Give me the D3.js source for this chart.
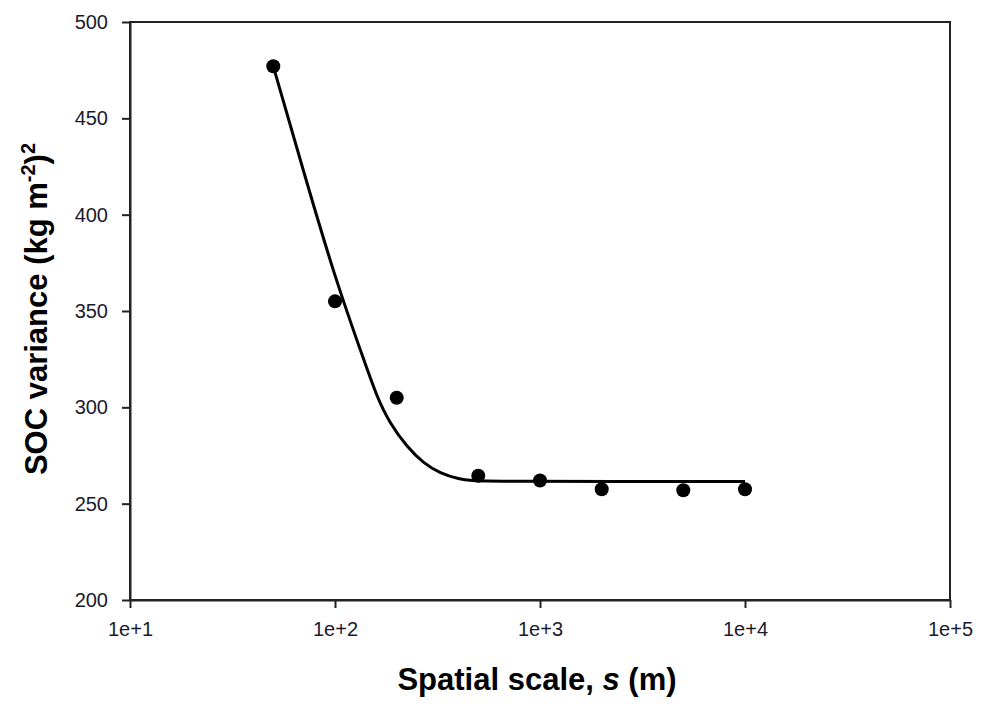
<!DOCTYPE html>
<html>
<head>
<meta charset="utf-8">
<script src="https://cdn.jsdelivr.net/npm/d3@7"></script>
<style>
  body { margin: 0; background: #fff; }
  svg { display: block; }
</style>
</head>
<body>
<svg id="chart" width="981" height="707"></svg>
<script>
// measured points
var scaleM = [50, 100, 200, 500, 1000, 2000, 5000, 10000];
var variance = [477, 355, 305, 264.5, 262, 257.5, 257, 257.5];

// fitted curve
var fitX = [50, 70, 100, 140, 160, 185, 224, 270, 325, 407, 456, 600, 10000];
var fitY = [477, 423, 367, 323, 305.5, 291.7, 279.6, 271, 265.8, 262.6, 262, 261.5, 261.5];

var xTicks = [1e1, 1e2, 1e3, 1e4, 1e5];
var xTickLabels = ['1e+1', '1e+2', '1e+3', '1e+4', '1e+5'];
var yTicks = [200, 250, 300, 350, 400, 450, 500];

var padL = 130, padT = 22, padR = 950, padB = 600;

var x = d3.scaleLog().domain([10, 1e5]).range([padL, padR]);
var y = d3.scaleLinear().domain([200, 500]).range([padB, padT]);

var svg = d3.select('#chart');

/* frame */
svg.append('rect')
    .attr('x', padL).attr('y', padT)
    .attr('width', padR - padL).attr('height', padB - padT)
    .attr('fill', 'none').attr('stroke', '#222').attr('stroke-width', 2);

var xAxis = d3.axisBottom(x).tickValues(xTicks)
    .tickFormat(function(d, i) { return xTickLabels[i]; })
    .tickSize(8).tickPadding(14).tickSizeOuter(0);
var yAxis = d3.axisLeft(y).tickValues(yTicks)
    .tickSize(8).tickPadding(14).tickSizeOuter(0);

var gx = svg.append('g').attr('transform', 'translate(0,' + padB + ')').call(xAxis);
var gy = svg.append('g').attr('transform', 'translate(' + padL + ',0)').call(yAxis);

[gx, gy].forEach(function(g) {
    g.select('.domain').attr('stroke', '#222').attr('stroke-width', 2);
    g.selectAll('.tick line').attr('stroke', '#222').attr('stroke-width', 2);
    g.selectAll('.tick text')
        .attr('fill', '#1a1a2e')
        .style('font-family', '"Liberation Sans", Arial, sans-serif')
        .style('font-size', '20px');
});

/* fit line */
var line = d3.line()
    .x(function(d, i) { return x(fitX[i]); })
    .y(function(d) { return y(d); })
    .curve(d3.curveBasis);

svg.append('path')
    .datum(fitY)
    .attr('d', line)
    .attr('fill', 'none')
    .attr('stroke', '#000')
    .attr('stroke-width', 3);

/* points */
svg.selectAll('circle').data(variance).enter().append('circle')
    .attr('cx', function(d, i) { return x(scaleM[i]); })
    .attr('cy', function(d) { return y(d); })
    .attr('r', 7)
    .attr('fill', '#000');

/* axis titles */
var xt = svg.append('text')
    .attr('x', 537).attr('y', 690)
    .attr('text-anchor', 'middle')
    .style('font-family', '"Liberation Sans", Arial, sans-serif')
    .style('font-size', '31px').style('font-weight', 'bold');
xt.append('tspan').text('Spatial scale, ');
xt.append('tspan').style('font-style', 'italic').text('s');
xt.append('tspan').text(' (m)');

var yt = svg.append('text')
    .attr('transform', 'translate(47,309) rotate(-90)')
    .attr('text-anchor', 'middle')
    .style('font-family', '"Liberation Sans", Arial, sans-serif')
    .style('font-size', '31px').style('font-weight', 'bold');
yt.append('tspan').text('SOC variance (kg m');
yt.append('tspan').attr('dy', -12).style('font-size', '20px').text('-2');
yt.append('tspan').attr('dy', 12).text(')');
yt.append('tspan').attr('dy', -12).style('font-size', '20px').text('2');
</script>
</body>
</html>
